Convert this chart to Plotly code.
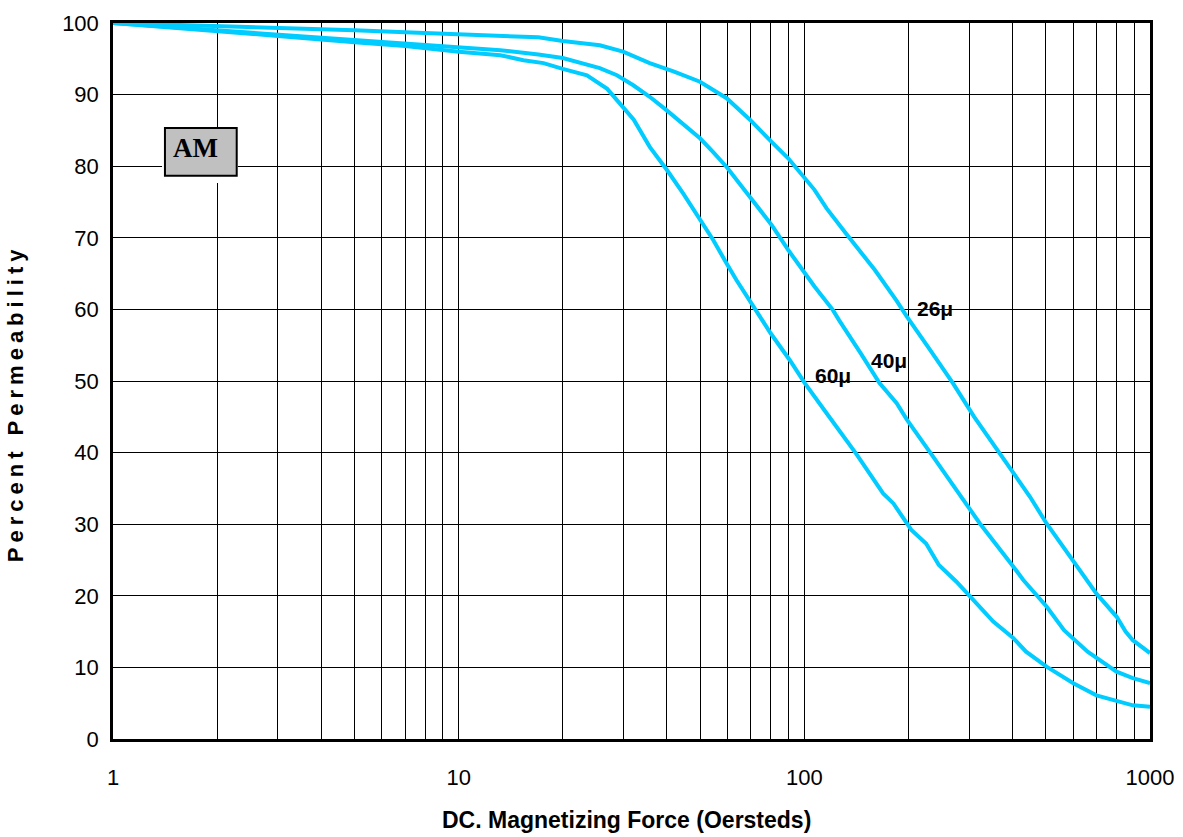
import math
import plotly.graph_objects as go

# ---- data ----
x_26 = [1, 2, 3, 5, 7, 10, 13.2, 17, 20, 25.6, 29.9, 35.7, 42, 49.9, 59.6, 69.6, 80.4, 89.8,
        107, 116, 132, 160, 185, 198, 230, 269, 310, 368, 402, 450, 502, 599, 700, 800, 850, 892, 1000]
y_26 = [100, 99.6, 99.3, 99.0, 98.7, 98.4, 98.2, 98.0, 97.5, 96.9, 96.0, 94.4, 93.2, 91.8, 89.5, 86.5, 83.4, 81.1,
        76.7, 74.1, 70.6, 65.5, 61.2, 59.0, 54.5, 49.7, 45.0, 39.9, 37.3, 33.8, 30.1, 25.0, 20.3, 17.1, 15.0, 13.8, 12.0]

x_40 = [1, 2, 3, 5, 7, 10, 13.2, 17, 20, 25.6, 28.7, 32, 35.7, 40, 45, 49.9, 54.4, 59.6, 69.6, 80.4, 89.8,
        107, 121, 126, 145, 165, 185, 198, 236, 275, 322, 402, 430, 502, 564, 660, 740, 800, 892, 1000]
y_40 = [100, 99.0, 98.4, 97.6, 97.1, 96.6, 96.2, 95.6, 95.1, 93.7, 92.7, 91.3, 89.7, 87.8, 85.8, 83.9, 82.0, 79.9, 75.7, 71.8, 68.3,
        63.2, 59.9, 58.5, 54.0, 49.7, 46.9, 44.6, 39.4, 34.8, 30.1, 24.1, 22.2, 18.5, 15.2, 12.2, 10.5, 9.4, 8.5, 7.8]

x_60 = [1, 2, 3, 5, 7, 10, 13.2, 15.4, 17.6, 20, 23.5, 26.9, 29.9, 32.1, 35.7, 40, 44.6, 49.9, 54.5, 59.6, 63.6,
        71.3, 79.8, 90.8, 100.3, 116, 141, 169, 181, 204, 225, 245, 275, 302, 352, 402, 438, 502, 600, 700, 800, 892, 1000]
y_60 = [100, 98.9, 98.2, 97.3, 96.8, 96.0, 95.5, 94.8, 94.4, 93.6, 92.7, 90.8, 88.2, 86.5, 82.7, 79.5, 76.2, 72.5, 69.7, 66.4, 64.1,
        60.4, 56.7, 52.9, 49.7, 45.5, 39.9, 34.3, 32.9, 29.2, 27.3, 24.3, 22.0, 19.9, 16.4, 14.1, 12.2, 10.1, 7.8, 6.1, 5.4, 4.7, 4.5]

series_names = ["26μ", "40μ", "60μ"]
label_x = [238.8, 176.2, 120.8]
label_y = [60.1, 52.8, 50.8]

x_major = [1, 10, 100, 1000]
x_major_text = ["1", "10", "100", "1000"]
x_minor = [m * d for d in (1, 10, 100) for m in range(2, 10)]
y_ticks = list(range(0, 101, 10))

x_title = "DC. Magnetizing Force (Oersteds)"
y_title = "Percent Permeability"
badge = "AM"

LINE = "#00CCFF"
FONT = "Liberation Sans, Arial, sans-serif"

fig = go.Figure()
for xs, ys, nm in zip([x_26, x_40, x_60], [y_26, y_40, y_60], series_names):
    fig.add_trace(go.Scatter(x=xs, y=ys, mode="lines", name=nm,
                             line=dict(color=LINE, width=4), showlegend=False,
                             hoverinfo="skip"))

for nm, lx, ly in zip(series_names, label_x, label_y):
    fig.add_annotation(x=math.log10(lx), y=ly, xref="x", yref="y", text="<b>%s</b>" % nm,
                       showarrow=False, font=dict(family=FONT, size=21, color="black"),
                       xanchor="center", yanchor="middle")

# badge box (white gap behind, gray box with border)
fig.add_shape(type="rect", xref="paper", yref="paper", x0=0.0473, x1=0.1205, y0=0.7765, y1=0.8547,
              fillcolor="white", line=dict(width=0), layer="above")
fig.add_shape(type="rect", xref="paper", yref="paper", x0=0.0501, x1=0.1193, y0=0.7867, y1=0.8534,
              fillcolor="#C0C0C0", line=dict(color="black", width=2), layer="above")
fig.add_annotation(x=0.080, y=0.8254, xref="paper", yref="paper", text="<b>%s</b>" % badge,
                   showarrow=False, font=dict(family="Liberation Serif, Times New Roman, serif", size=27, color="black"),
                   xanchor="center", yanchor="middle")

# axis titles
fig.add_annotation(x=0.4952, y=-0.1131, xref="paper", yref="paper", text="<b>%s</b>" % x_title,
                   showarrow=False, font=dict(family=FONT, size=23, color="black"),
                   xanchor="center", yanchor="middle")
fig.add_annotation(x=-0.0945, y=0.469, xref="paper", yref="paper",
                   text="<b><span style='letter-spacing:5px'>%s</span></b>" % y_title,
                   showarrow=False, textangle=-90, font=dict(family=FONT, size=22, color="black"),
                   xanchor="center", yanchor="middle")

fig.update_xaxes(type="log", range=[0, 3], tickmode="array", tickvals=x_major, ticktext=x_major_text,
                 showgrid=True, gridcolor="black", gridwidth=1,
                 minor=dict(tickmode="array", tickvals=x_minor, showgrid=True, gridcolor="black", gridwidth=1, ticks=""),
                 showline=True, linecolor="black", linewidth=2.5, mirror=True, ticks="",
                 ticklabelstandoff=17, zeroline=False,
                 tickfont=dict(family=FONT, size=22, color="black"))
fig.update_yaxes(range=[0, 100], tickmode="array", tickvals=y_ticks,
                 showgrid=True, gridcolor="black", gridwidth=1,
                 showline=True, linecolor="black", linewidth=2.5, mirror=True, ticks="",
                 ticklabelstandoff=7, zeroline=False,
                 tickfont=dict(family=FONT, size=22, color="black"))

fig.update_layout(width=1183, height=837, margin=dict(l=113, r=33, t=23, b=98, autoexpand=False),
                  plot_bgcolor="white", paper_bgcolor="white", showlegend=False)

fig.write_html("out.html", config={"displayModeBar": False},
               post_script="document.body.style.margin='0';document.body.style.overflow='hidden';")
